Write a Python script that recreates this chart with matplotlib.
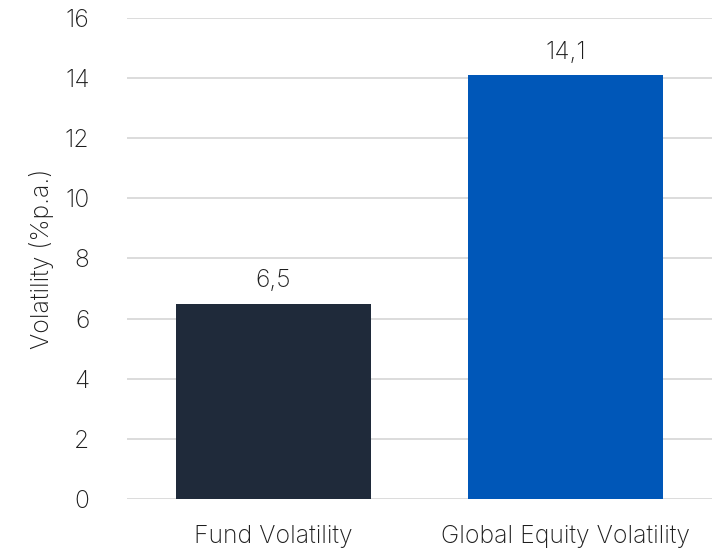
import matplotlib.pyplot as plt

# data
categories = ["Fund Volatility", "Global Equity Volatility"]
values = [6.5, 14.1]
bar_colors = ["#1f2a3a", "#0057b8"]
y_ticks = [0, 2, 4, 6, 8, 10, 12, 14, 16]

plt.rcParams['font.family'] = ['Inter', 'DejaVu Sans']
FS = 17.8
TXT = "#1e1e1e"

fig = plt.figure(figsize=(7.23, 5.49), dpi=100)
ax = fig.add_axes([0.1757, 0.0911, 0.8091, 0.8761])

x = range(len(categories))
bars = ax.bar(x, values, width=0.667, color=bar_colors, zorder=3)

for b, v in zip(bars, values):
    ax.text(b.get_x() + b.get_width() / 2, v + 0.38, f"{v:.1f}".replace(".", ","),
            ha="center", va="bottom", fontsize=FS, color=TXT, fontweight="light")

ax.set_xlim(-0.5, 1.5)
ax.set_ylim(0, 16)
ax.set_yticks(y_ticks)
ax.set_xticks(list(x))
ax.set_xticklabels(categories, fontweight="light")
ax.set_yticklabels([str(t) for t in y_ticks], fontweight="light")
ax.yaxis.grid(True, color="#d9d9d9", linewidth=1.3, zorder=0)
ax.set_ylabel("Volatility (%p.a.)", fontsize=FS, color=TXT, labelpad=8, fontweight="light")

for s in ax.spines.values():
    s.set_visible(False)
ax.tick_params(axis="both", length=0, labelsize=FS, labelcolor=TXT)
ax.tick_params(axis="y", pad=27)
ax.tick_params(axis="x", pad=19)

fig.savefig("out.png", dpi=100)
